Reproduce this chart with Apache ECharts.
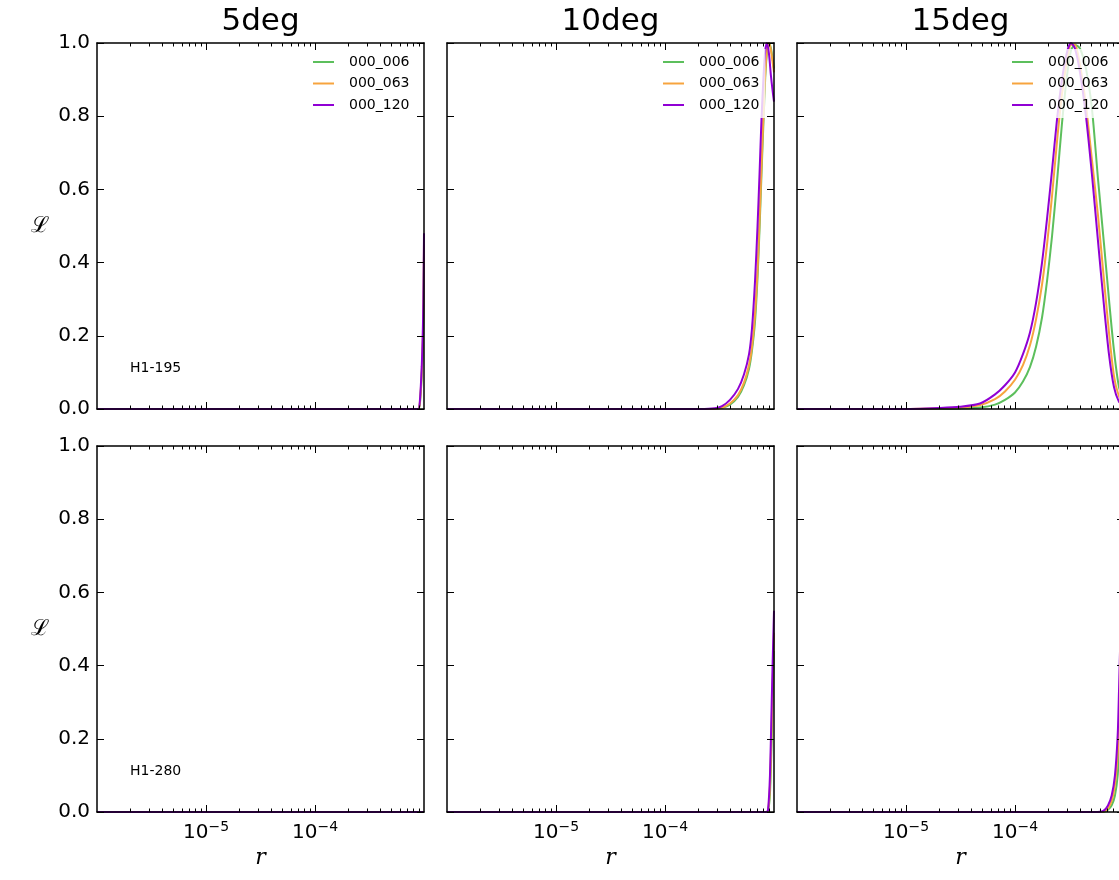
<!DOCTYPE html>
<html><head><meta charset="utf-8">
<script src="https://cdn.jsdelivr.net/npm/echarts@6/dist/echarts.min.js"></script>
<style>html,body{margin:0;padding:0;background:#fff}#c{width:1119px;height:880px}</style>
</head><body><div id="c"></div>
<script>
// ---------- labels / ticks ----------
const seriesNames = ['000_006', '000_063', '000_120'];
const seriesColors = ['#5cbf5c', '#f7a43e', '#9000d4'];
const columnTitles = ['5deg', '10deg', '15deg'];
const rowLabels = ['H1-195', 'H1-280'];
const yTickValues = [0, 0.2, 0.4, 0.6, 0.8, 1.0];
const xMajorTicks = [1e-5, 1e-4];
const xMajorExponents = ['−5', '−4'];
const xMinorTicks = [2e-6, 3e-6, 4e-6, 5e-6, 6e-6, 7e-6, 8e-6, 9e-6,
                     2e-5, 3e-5, 4e-5, 5e-5, 6e-5, 7e-5, 8e-5, 9e-5,
                     2e-4, 3e-4, 4e-4, 5e-4, 6e-4, 7e-4, 8e-4, 9e-4];
const xMin = 1e-6, xMax = 1e-3;

// ---------- data: H1-195 ----------
const r_195_5deg = [1e-6, 8.0e-4, 8.87e-4, 9.18e-4, 9.53e-4, 9.73e-4, 9.86e-4, 9.945e-4, 1e-3];
const L_195_5deg_006 = [0, 0, 0, 0.015, 0.09, 0.16, 0.24, 0.34, 0.42];
const L_195_5deg_063 = [0, 0, 0, 0.02, 0.10, 0.18, 0.26, 0.37, 0.45];
const L_195_5deg_120 = [0, 0, 0, 0.025, 0.115, 0.20, 0.29, 0.40, 0.48];

const r_195_10deg = [1e-6, 2.094e-4, 2.877e-4, 3.334e-4, 3.945e-4, 4.677e-4, 5.309e-4, 5.902e-4, 6.281e-4, 6.699e-4,
                     7.063e-4, 7.362e-4, 7.674e-4, 8.017e-4, 8.318e-4, 8.630e-4, 8.995e-4, 9.376e-4, 9.795e-4, 1e-3];
const L_195_10deg_006 = [0, 0, 0, 0.003, 0.012, 0.033, 0.065, 0.11, 0.16, 0.24, 0.36, 0.49, 0.64, 0.79, 0.91, 0.975, 1.0, 0.985, 0.95, 0.93];
const L_195_10deg_063 = [0, 0, 0.001, 0.004, 0.015, 0.038, 0.072, 0.12, 0.17, 0.26, 0.38, 0.51, 0.66, 0.81, 0.92, 0.98, 1.0, 0.98, 0.94, 0.92];
const L_195_10deg_120 = [0, 0, 0.002, 0.008, 0.025, 0.055, 0.095, 0.15, 0.22, 0.35, 0.50, 0.64, 0.79, 0.91, 0.98, 1.0, 0.97, 0.91, 0.86, 0.84];

const r_195_15deg = [1e-6, 8.81e-6, 2.051e-5, 3.126e-5, 4.775e-5, 6.561e-5, 8.091e-5, 1.0e-4, 1.183e-4, 1.374e-4,
                     1.560e-4, 1.770e-4, 1.968e-4, 2.183e-4, 2.427e-4, 2.698e-4, 2.999e-4, 3.266e-4, 3.548e-4, 3.945e-4,
                     4.477e-4, 5.082e-4, 5.768e-4, 6.561e-4, 7.278e-4, 8.091e-4, 8.995e-4, 1e-3];
const L_195_15deg_006 = [0, 0, 0, 0.001, 0.004, 0.012, 0.025, 0.045, 0.075, 0.115, 0.17, 0.25, 0.35, 0.47, 0.62, 0.78, 0.91, 0.98,
                         0.995, 0.985, 0.93, 0.82, 0.63, 0.45, 0.30, 0.16, 0.06, 0.025];
const L_195_15deg_063 = [0, 0, 0.002, 0.004, 0.011, 0.027, 0.048, 0.08, 0.12, 0.175, 0.245, 0.34, 0.45, 0.58, 0.73, 0.86, 0.95, 0.995,
                         0.995, 0.94, 0.83, 0.68, 0.53, 0.35, 0.21, 0.09, 0.035, 0.014];
const L_195_15deg_120 = [0, 0, 0.003, 0.006, 0.015, 0.04, 0.065, 0.10, 0.15, 0.21, 0.29, 0.40, 0.52, 0.65, 0.79, 0.90, 0.975, 1.0,
                         0.985, 0.92, 0.80, 0.64, 0.46, 0.28, 0.15, 0.06, 0.02, 0.008];

// ---------- data: H1-280 ----------
const r_280_5deg = [1e-6, 1e-3];
const L_280_5deg_006 = [0, 0];
const L_280_5deg_063 = [0, 0];
const L_280_5deg_120 = [0, 0];

const r_280_10deg = [1e-6, 8.453e-4, 8.810e-4, 9.183e-4, 9.528e-4, 9.683e-4, 9.840e-4, 1e-3];
const L_280_10deg_006 = [0, 0, 0.002, 0.05, 0.20, 0.28, 0.36, 0.44];
const L_280_10deg_063 = [0, 0, 0.003, 0.07, 0.24, 0.33, 0.41, 0.49];
const L_280_10deg_120 = [0, 0, 0.005, 0.10, 0.30, 0.39, 0.47, 0.55];

const r_280_15deg = [1e-6, 5.420e-4, 6.457e-4, 7.129e-4, 7.709e-4, 8.260e-4, 8.750e-4, 8.995e-4, 9.484e-4, 1e-3];
const L_280_15deg_006 = [0, 0, 0, 0.006, 0.018, 0.045, 0.10, 0.17, 0.36, 0.62];
const L_280_15deg_063 = [0, 0, 0.001, 0.01, 0.03, 0.075, 0.16, 0.25, 0.48, 0.74];
const L_280_15deg_120 = [0, 0, 0.003, 0.018, 0.045, 0.10, 0.21, 0.33, 0.60, 0.84];

const panels = [
  { row: 0, col: 0, r: r_195_5deg,  L: [L_195_5deg_006,  L_195_5deg_063,  L_195_5deg_120] },
  { row: 0, col: 1, r: r_195_10deg, L: [L_195_10deg_006, L_195_10deg_063, L_195_10deg_120] },
  { row: 0, col: 2, r: r_195_15deg, L: [L_195_15deg_006, L_195_15deg_063, L_195_15deg_120] },
  { row: 1, col: 0, r: r_280_5deg,  L: [L_280_5deg_006,  L_280_5deg_063,  L_280_5deg_120] },
  { row: 1, col: 1, r: r_280_10deg, L: [L_280_10deg_006, L_280_10deg_063, L_280_10deg_120] },
  { row: 1, col: 2, r: r_280_15deg, L: [L_280_15deg_006, L_280_15deg_063, L_280_15deg_120] }
];

// ---------- layout ----------
const FONT = 'DejaVu Sans';
const gridLefts = [97, 447, 797];
const gridTops = [43, 446];
const gridW = 327, gridH = 366;
const legendLefts = [305, 655, 1004];

const grids = [], xAxes = [], yAxes = [], series = [], legends = [], graphics = [];
const black = '#000';

panels.forEach((p, g) => {
  grids.push({ left: gridLefts[p.col], top: gridTops[p.row], width: gridW, height: gridH,
               containLabel: false, outerBoundsMode: 'none' });
  const isBottomRow = p.row === 1;
  const baseX = {
    gridIndex: g, type: 'log', logBase: 10, min: xMin, max: xMax, z: 5,
    splitLine: { show: false }, minorTick: { show: false }, minorSplitLine: { show: false }
  };
  xAxes.push(Object.assign({}, baseX, {
    position: 'bottom',
    axisLine: { show: true, onZero: false, lineStyle: { color: black, width: 1.5 } },
    axisTick: { show: true, inside: true, length: 7, customValues: xMajorTicks, lineStyle: { color: black, width: 1 } },
    axisLabel: isBottomRow ? {
      show: true, margin: 8, customValues: xMajorTicks,
      formatter: (v) => {
        const i = xMajorTicks.findIndex(t => Math.abs(Math.log10(t) - Math.log10(v)) < 1e-6);
        return '{b|10}{s|' + (i >= 0 ? xMajorExponents[i] : '') + '}';
      },
      rich: {
        b: { fontSize: 20, fontFamily: FONT, color: black },
        s: { fontSize: 14, fontFamily: FONT, color: black, padding: [0, 0, 11, 0] }
      }
    } : { show: false },
    name: isBottomRow ? 'r' : '', nameLocation: 'middle', nameGap: 35,
    nameTextStyle: { fontFamily: 'DejaVu Serif', fontStyle: 'italic', fontSize: 22, color: black }
  }));
  xAxes.push(Object.assign({}, baseX, {
    position: 'bottom',
    axisLine: { show: false, onZero: false },
    axisTick: { show: true, inside: true, length: 3.5, customValues: xMinorTicks, lineStyle: { color: black, width: 1 } },
    axisLabel: { show: false }
  }));
  xAxes.push(Object.assign({}, baseX, {
    position: 'top',
    axisLine: { show: true, onZero: false, lineStyle: { color: black, width: 1.5 } },
    axisTick: { show: true, inside: true, length: 7, customValues: xMajorTicks, lineStyle: { color: black, width: 1 } },
    axisLabel: { show: false }
  }));
  xAxes.push(Object.assign({}, baseX, {
    position: 'top',
    axisLine: { show: false, onZero: false },
    axisTick: { show: true, inside: true, length: 3.5, customValues: xMinorTicks, lineStyle: { color: black, width: 1 } },
    axisLabel: { show: false }
  }));

  const baseY = { gridIndex: g, type: 'value', min: 0, max: 1, interval: 0.2, z: 5, splitLine: { show: false } };
  yAxes.push(Object.assign({}, baseY, {
    position: 'left',
    axisLine: { show: true, onZero: false, lineStyle: { color: black, width: 1.5 } },
    axisTick: { show: true, inside: true, length: 7, lineStyle: { color: black, width: 1 } },
    axisLabel: p.col === 0 ? {
      show: true, margin: 7, fontSize: 20, fontFamily: FONT, color: black,
      formatter: (v) => v.toFixed(1)
    } : { show: false },
    name: p.col === 0 ? 'ℒ' : '', nameLocation: 'middle', nameGap: 48, nameRotate: 0,
    nameTextStyle: { fontFamily: 'DejaVu Serif', fontSize: 22, color: black }
  }));
  yAxes.push(Object.assign({}, baseY, {
    position: 'right',
    axisLine: { show: true, onZero: false, lineStyle: { color: black, width: 1.5 } },
    axisTick: { show: true, inside: true, length: 7, lineStyle: { color: black, width: 1 } },
    axisLabel: { show: false }
  }));

  seriesNames.forEach((name, k) => {
    series.push({
      name, type: 'line', xAxisIndex: 4 * g, yAxisIndex: 2 * g,
      data: p.r.map((rv, i) => [rv, p.L[k][i]]),
      symbol: 'none', showSymbol: false, smooth: 0.25, clip: true, z: 2,
      lineStyle: { color: seriesColors[k], width: 2 }, itemStyle: { color: seriesColors[k] },
      silent: true, animation: false
    });
  });

  if (p.row === 0) {
    legends.push({
      data: seriesNames, orient: 'vertical', left: legendLefts[p.col], top: 49,
      icon: 'rect', itemWidth: 21, itemHeight: 2, itemGap: 7.5, selectedMode: false,
      backgroundColor: 'rgba(255,255,255,0.8)', padding: [6, 6, 6, 8], z: 4,
      textStyle: { fontFamily: FONT, fontSize: 14, color: black, padding: [0, 0, 0, 10] }
    });
    graphics.push({
      type: 'text', x: gridLefts[p.col] + gridW / 2, y: 22,
      style: { text: columnTitles[p.col], fontFamily: FONT, fontSize: 31, fill: black,
               align: 'center', verticalAlign: 'middle', textAlign: 'center', textVerticalAlign: 'middle' }
    });
  }
  if (p.col === 0) {
    graphics.push({
      type: 'text', x: 130, y: gridTops[p.row] + 325,
      style: { text: rowLabels[p.row], fontFamily: FONT, fontSize: 14, fill: black,
               align: 'left', verticalAlign: 'middle', textAlign: 'left', textVerticalAlign: 'middle' }
    });
  }
});

const chart = echarts.init(document.getElementById('c'), null, { renderer: 'canvas' });
chart.setOption({
  backgroundColor: '#fff',
  animation: false,
  grid: grids, xAxis: xAxes, yAxis: yAxes, series, legend: legends, graphic: graphics
});
</script>
</body></html>
